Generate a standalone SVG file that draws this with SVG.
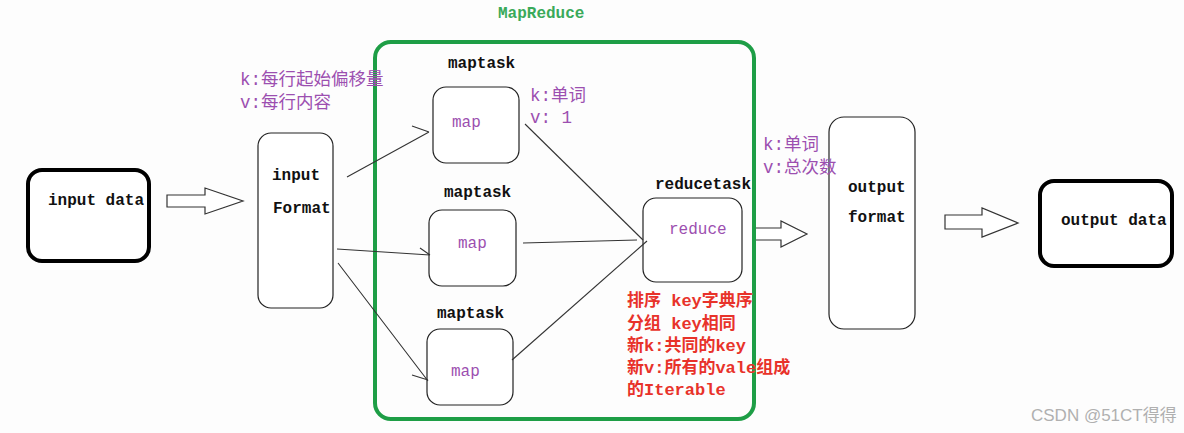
<svg xmlns="http://www.w3.org/2000/svg" width="1184" height="433" viewBox="0 0 1184 433">
<style>
.bg{fill:#fdfdfd}
.thick{fill:#fff;stroke:#000;stroke-width:4}
.box{fill:#fff;stroke:#222;stroke-width:1.2}
.harrow{fill:#fff;stroke:#333;stroke-width:1.2;stroke-linejoin:miter}
.con{fill:none;stroke:#333;stroke-width:1.1}
.blk{font-family:"Liberation Mono","Noto Sans CJK SC",monospace;font-size:16px;font-weight:bold;fill:#111}
.pur{font-family:"Liberation Mono","Noto Sans CJK SC",monospace;font-size:16px;fill:#9c4fb0}
.kv{font-family:"Liberation Mono","Noto Sans CJK SC",monospace;font-size:17.5px;fill:#9c4fb0}
.red{font-family:"Liberation Mono","Noto Sans CJK SC",monospace;font-size:17px;font-weight:bold;fill:#e8322a}
.grn{font-family:"Liberation Mono",monospace;font-size:16px;font-weight:bold;fill:#3aaa5a}
.wm{font-family:"Liberation Sans","Noto Sans CJK SC",sans-serif;font-size:17px;fill:#b0b0b0}
</style>
<rect class="bg" x="0" y="0" width="1184" height="433"/>

<g id="mapreduce">
<rect x="375" y="42" width="379" height="377" rx="16" fill="none" stroke="#1e9e46" stroke-width="4"/>
<text class="grn" x="498" y="18">MapReduce</text>
</g>

<g id="input-data">
<rect class="thick" x="28" y="170" width="121" height="91" rx="14"/>
<text class="blk" x="48" y="205">input data</text>
</g>

<g id="input-format">
<rect class="box" x="258" y="133" width="75" height="175" rx="13"/>
<text class="blk" x="272" y="180">input</text>
<text class="blk" x="273" y="213">Format</text>
<text class="kv" x="240" y="85">k:每行起始偏移量</text>
<text class="kv" x="240" y="108">v:每行内容</text>
</g>

<g id="maptask1">
<text class="blk" x="448" y="68">maptask</text>
<rect class="box" x="433" y="87" width="86" height="76" rx="13"/>
<text class="pur" x="452" y="127">map</text>
<text class="kv" x="530" y="101">k:单词</text>
<text class="kv" x="530" y="123">v: 1</text>
</g>

<g id="maptask2">
<text class="blk" x="444" y="197">maptask</text>
<rect class="box" x="429" y="210" width="87" height="76" rx="13"/>
<text class="pur" x="458" y="248">map</text>
</g>

<g id="maptask3">
<text class="blk" x="437" y="318">maptask</text>
<rect class="box" x="427" y="329" width="86" height="76" rx="13"/>
<text class="pur" x="451" y="376">map</text>
</g>

<g id="reducetask">
<text class="blk" x="655" y="189">reducetask</text>
<rect class="box" x="643" y="198" width="99" height="84" rx="13"/>
<text class="pur" x="669" y="234">reduce</text>
<text class="red" x="627" y="306">排序 key字典序</text>
<text class="red" x="627" y="329">分组 key相同</text>
<text class="red" x="627" y="351">新k:共同的key</text>
<text class="red" x="627" y="373">新v:所有的vale组成</text>
<text class="red" x="627" y="395">的Iterable</text>
</g>

<g id="output-format">
<rect class="box" x="829" y="117" width="86" height="212" rx="15"/>
<text class="blk" x="848" y="192">output</text>
<text class="blk" x="848" y="222">format</text>
<text class="kv" x="763" y="150">k:单词</text>
<text class="kv" x="763" y="173">v:总次数</text>
</g>

<g id="output-data">
<rect class="thick" x="1040" y="181" width="132" height="85" rx="14"/>
<text class="blk" x="1061" y="225">output data</text>
</g>

<g id="connectors">
<path class="harrow" d="M167,195 H205 V188 L243,201 L205,214 V207 H167 Z"/>
<path class="harrow" d="M756,228 H781 V221 L807,234 L781,247 V240 H756"/>
<path class="harrow" d="M945,215 H982 V208 L1018,223 L982,237 V229 H945 Z"/>
<path class="con" d="M347,177 L429,132 M412,126 L429,132"/>
<path class="con" d="M337,249 L430,255 M420,248 L430,255"/>
<path class="con" d="M338,263 L428,381 M412,375 L428,380"/>
<path class="con" d="M525,124 L643,240"/>
<path class="con" d="M523,243 L637,240" stroke-width="1.5"/>
<path class="con" d="M512,360 L647,241"/>
</g>

<text class="wm" x="1031" y="421">CSDN @51CT得得</text>
</svg>
